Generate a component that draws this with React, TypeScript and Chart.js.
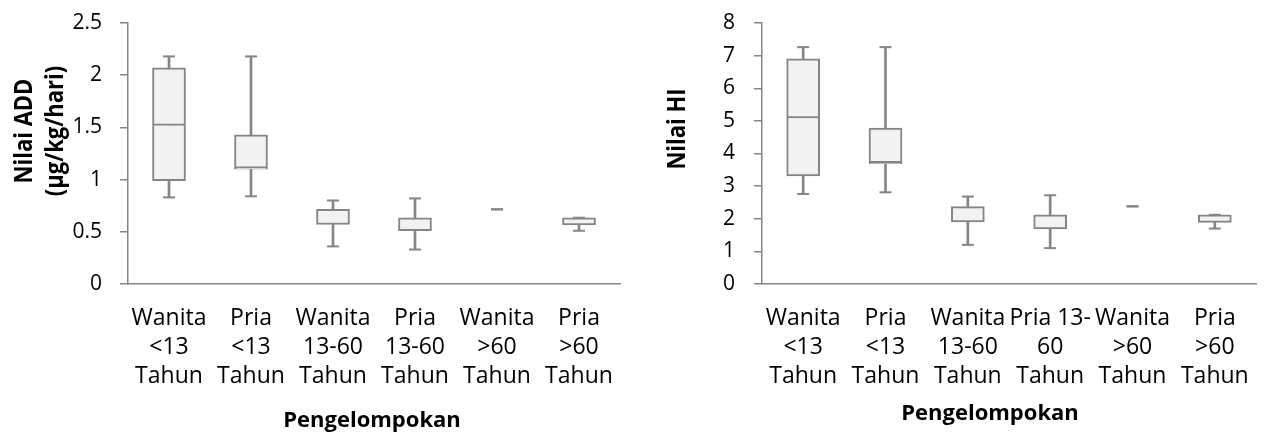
import React, { useEffect, useRef } from 'react';
import { Chart, registerables } from 'chart.js';

Chart.register(...registerables);

// ---------- data ----------
const addCategories: string[][] = [
  ['Wanita', '<13', 'Tahun'],
  ['Pria', '<13', 'Tahun'],
  ['Wanita', '13-60', 'Tahun'],
  ['Pria', '13-60', 'Tahun'],
  ['Wanita', '>60', 'Tahun'],
  ['Pria', '>60', 'Tahun'],
];
const hiCategories: string[][] = [
  ['Wanita', '<13', 'Tahun'],
  ['Pria', '<13', 'Tahun'],
  ['Wanita', '13-60', 'Tahun'],
  ['Pria 13-', '60', 'Tahun'],
  ['Wanita', '>60', 'Tahun'],
  ['Pria', '>60', 'Tahun'],
];

const addMin = [0.83, 0.84, 0.36, 0.33, 0.715, 0.51];
const addQ1 = [0.99, 1.1, 0.57, 0.51, 0.715, 0.565];
const addMedian = [1.52, 1.11, 0.57, 0.51, 0.715, 0.565];
const addQ3 = [2.07, 1.43, 0.715, 0.635, 0.715, 0.635];
const addMax = [2.18, 2.18, 0.8, 0.82, 0.715, 0.635];

const hiMin = [2.76, 2.81, 1.2, 1.1, 2.38, 1.7];
const hiQ1 = [3.31, 3.69, 1.9, 1.69, 2.38, 1.89];
const hiMedian = [5.09, 3.72, 1.9, 1.69, 2.38, 1.89];
const hiQ3 = [6.9, 4.78, 2.37, 2.12, 2.38, 2.12];
const hiMax = [7.26, 7.26, 2.68, 2.72, 2.38, 2.12];

const addTicks = [0, 0.5, 1, 1.5, 2, 2.5];
const hiTicks = [0, 1, 2, 3, 4, 5, 6, 7, 8];

const addYTitle = ['Nilai ADD', '(µg/kg/hari)'];
const hiYTitle = ['Nilai HI'];
const xTitle = 'Pengelompokan';

// ---------- styles ----------
const GRAY = '#858585';
const FILL = '#f2f2f2';
const FONT = "'Open Sans', sans-serif";

interface BoxProps {
  labels: string[][];
  mins: number[];
  q1s: number[];
  meds: number[];
  q3s: number[];
  maxs: number[];
  ticks: number[];
  yTitle: string[];
  yTitleX: number[];
  yTitleY: number;
  xTitleX: number;
  xTitleY: number;
  yAxisWidth: number;
  padRight: number;
  tickPad: number;
}

function BoxChart(p: BoxProps) {
  const ref = useRef<HTMLCanvasElement | null>(null);

  useEffect(() => {
    if (!ref.current) return;
    const titles = {
      id: 'customTitles',
      afterDraw(chart: any) {
        const ctx = chart.ctx as CanvasRenderingContext2D;
        ctx.save();
        ctx.fillStyle = '#000';
        ctx.font = `bold 22px ${FONT}`;
        ctx.textAlign = 'center';
        ctx.textBaseline = 'alphabetic';
        p.yTitle.forEach((line, i) => {
          ctx.save();
          ctx.translate(p.yTitleX[i], p.yTitleY);
          ctx.rotate(-Math.PI / 2);
          ctx.scale(1, 1.15);
          ctx.fillText(line, 0, 0);
          ctx.restore();
        });
        ctx.fillText(xTitle, p.xTitleX, p.xTitleY);
        ctx.restore();
      },
    };

    const chart = new Chart(ref.current, {
      type: 'bar',
      data: {
        labels: p.labels as any,
        datasets: [
          {
            type: 'bar',
            label: 'whisker',
            data: p.mins.map((m, i) => [m, p.maxs[i]]) as any,
            backgroundColor: GRAY,
            borderWidth: 0,
            barThickness: 2,
            grouped: false,
            order: 5,
          },
          {
            type: 'bar',
            label: 'lower',
            data: p.q1s.map((q, i) => [q, p.meds[i]]) as any,
            backgroundColor: FILL,
            borderColor: GRAY,
            borderWidth: 2,
            borderSkipped: 'top',
            barThickness: 33,
            grouped: false,
            order: 4,
          },
          {
            type: 'bar',
            label: 'upper',
            data: p.meds.map((m, i) => [m, p.q3s[i]]) as any,
            backgroundColor: FILL,
            borderColor: GRAY,
            borderWidth: 2,
            borderSkipped: false,
            barThickness: 33,
            grouped: false,
            order: 3,
          },
          {
            type: 'line',
            label: 'min',
            data: p.mins,
            showLine: false,
            pointStyle: 'line',
            pointRadius: 6,
            pointBorderWidth: 2,
            pointBorderColor: GRAY,
            borderColor: GRAY,
            order: 1,
          },
          {
            type: 'line',
            label: 'max',
            data: p.maxs,
            showLine: false,
            pointStyle: 'line',
            pointRadius: 6,
            pointBorderWidth: 2,
            pointBorderColor: GRAY,
            borderColor: GRAY,
            order: 1,
          },
        ] as any,
      },
      options: {
        animation: false,
        responsive: false,
        events: [],
        layout: { padding: { top: 23, right: p.padRight, left: 0, bottom: 0 } },
        plugins: {
          legend: { display: false },
          tooltip: { enabled: false },
        },
        scales: {
          x: {
            offset: true,
            grid: { display: false, drawTicks: false },
            border: { display: true, color: GRAY, width: 1.5 },
            ticks: {
              color: '#000',
              font: { family: FONT, size: 23, lineHeight: 1.26 },
              padding: 20,
              maxRotation: 0,
              minRotation: 0,
              autoSkip: false,
            },
            afterFit: (scale: any) => {
              scale.height = 153;
              scale.paddingLeft = 0;
              scale.paddingRight = 0;
            },
          },
          y: {
            min: p.ticks[0],
            max: p.ticks[p.ticks.length - 1],
            afterBuildTicks: (scale: any) => {
              scale.ticks = p.ticks.map((v) => ({ value: v }));
            },
            grid: {
              drawOnChartArea: false,
              drawTicks: true,
              tickLength: 8,
              color: GRAY,
              lineWidth: 1.5,
            },
            border: { display: true, color: GRAY, width: 1.5 },
            ticks: {
              color: '#000',
              font: { family: FONT, size: 21 },
              padding: p.tickPad,
              callback: (v: any) => String(v),
            },
            afterFit: (scale: any) => {
              scale.width = p.yAxisWidth;
              scale.paddingTop = 0;
              scale.paddingBottom = 0;
            },
          },
        },
      } as any,
      plugins: [titles],
    });
    return () => chart.destroy();
  }, []);

  return <canvas ref={ref} width={632} height={437} style={{ display: 'block' }} />;
}

export default function App() {
  return (
    <div
      style={{
        position: 'absolute',
        left: 0,
        top: 0,
        width: 1264,
        height: 437,
        display: 'flex',
        background: '#fff',
      }}
    >
      <BoxChart
        labels={addCategories}
        mins={addMin}
        q1s={addQ1}
        meds={addMedian}
        q3s={addQ3}
        maxs={addMax}
        ticks={addTicks}
        yTitle={addYTitle}
        yTitleX={[32, 63]}
        yTitleY={131}
        xTitleX={372}
        xTitleY={427}
        yAxisWidth={128}
        padRight={12}
        tickPad={18}
      />
      <BoxChart
        labels={hiCategories}
        mins={hiMin}
        q1s={hiQ1}
        meds={hiMedian}
        q3s={hiQ3}
        maxs={hiMax}
        ticks={hiTicks}
        yTitle={hiYTitle}
        yTitleX={[53]}
        yTitleY={129}
        xTitleX={358}
        xTitleY={420}
        yAxisWidth={130}
        padRight={1}
        tickPad={19}
      />
    </div>
  );
}
